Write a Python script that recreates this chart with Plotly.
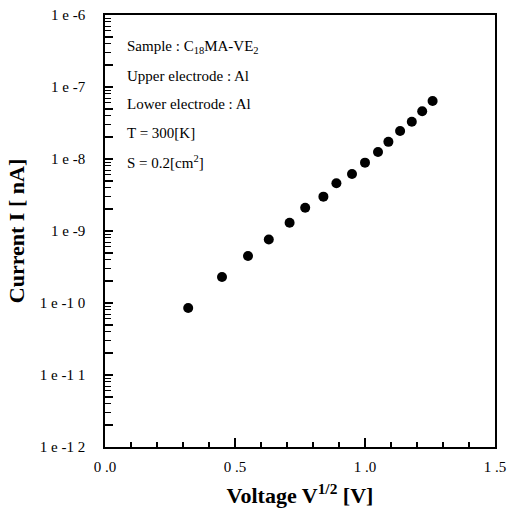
import math
import plotly.graph_objects as go

voltage_sqrt = [0.32, 0.45, 0.55, 0.63, 0.71, 0.77, 0.84, 0.89, 0.95, 1.00, 1.05, 1.09, 1.135, 1.18, 1.22, 1.26]
current = [8.5e-11, 2.3e-10, 4.5e-10, 7.6e-10, 1.3e-9, 2.1e-9, 3.0e-9, 4.6e-9, 6.2e-9, 8.9e-9,
           1.25e-8, 1.73e-8, 2.45e-8, 3.3e-8, 4.6e-8, 6.4e-8]

x_tickvals = [0.0, 0.5, 1.0, 1.5]
x_ticktext = ["0 .0", "0 .5", "1 .0", "1 .5"]
y_tickvals = [1e-12, 1e-11, 1e-10, 1e-9, 1e-8, 1e-7, 1e-6]
y_ticktext = ["1 e -1 2", "1 e -1 1", "1 e -1 0", "1 e -9", "1 e -8", "1 e -7", "1 e -6"]
y_minor_mantissas = [2, 3, 4, 5, 6, 7, 8, 9]

info_lines = [
    "Sample : C<sub>18</sub>MA-VE<sub>2</sub>",
    "Upper electrode : Al",
    "Lower electrode : Al",
    "T = 300[K]",
    "S = 0.2[cm<sup>2</sup>]",
]

FONT = "Liberation Serif"
PAD = "\u00a0" * 4

fig = go.Figure()
fig.add_trace(go.Scatter(
    x=voltage_sqrt, y=current, mode="markers",
    marker=dict(color="black", size=10),
    showlegend=False, yaxis="y",
))
fig.add_trace(go.Scatter(
    x=voltage_sqrt, y=current, mode="markers",
    marker=dict(color="black", size=10, opacity=0),
    showlegend=False, hoverinfo="skip", yaxis="y2",
))

for i, line in enumerate(info_lines):
    fig.add_annotation(
        x=0.05, xref="paper", xanchor="left",
        y=0.926 - i * 0.0664, yref="paper", yanchor="middle",
        text=line, showarrow=False,
        font=dict(family=FONT, size=15, color="black"),
    )

# inward tick marks on the log y axis (major at decades, minor at 2..9)
for v in y_tickvals:
    fig.add_shape(type="line", xref="x", yref="y", xsizemode="pixel", xanchor=0,
                  x0=0, x1=8, y0=math.log10(v), y1=math.log10(v),
                  line=dict(color="black", width=1.5))
for v in y_tickvals[:-1]:
    for m in y_minor_mantissas:
        fig.add_shape(type="line", xref="x", yref="y", xsizemode="pixel", xanchor=0,
                      x0=0, x1=6, y0=math.log10(m * v), y1=math.log10(m * v),
                      line=dict(color="black", width=1))

fig.update_layout(
    xaxis=dict(
        range=[0, 1.5], automargin=False,
        tickvals=x_tickvals, ticktext=x_ticktext,
        ticks="inside", ticklen=9, tickwidth=1.5, tickcolor="black",
        minor=dict(dtick=0.1, tick0=0, ticks="inside", ticklen=5, tickwidth=1.5, tickcolor="black", showgrid=False),
        showline=True, linecolor="black", linewidth=1.5, mirror=True,
        showgrid=False, zeroline=False,
        ticklabelstandoff=5,
        tickfont=dict(family=FONT, size=15, color="black"),
        title=dict(text="<b>Voltage V<sup>1/2</sup> [V]</b>", font=dict(family=FONT, size=22, color="black"), standoff=14),
    ),
    yaxis=dict(
        type="log", range=[-12, -6],
        showticklabels=False,
        ticks="inside", ticklen=8, tickwidth=1.5, tickcolor="black",
        minor=dict(ticks="inside", ticklen=6, tickwidth=1, tickcolor="black", showgrid=False),
        showgrid=False, zeroline=False,
    ),
    yaxis2=dict(
        type="log", range=[-12, -6], automargin=False,
        overlaying="y", side="left",
        tickvals=y_tickvals, ticktext=[t + PAD for t in y_ticktext],
        ticks="", showline=True, linecolor="black", linewidth=1.5, mirror=True,
        showgrid=False, zeroline=False,
        tickfont=dict(family=FONT, size=15, color="black"),
        title=dict(text="<b>Current I [ nA]</b>", font=dict(family=FONT, size=22, color="black"), standoff=9),
    ),
    width=507, height=513,
    margin=dict(l=105, r=12, t=15, b=66),
    paper_bgcolor="white", plot_bgcolor="white",
)

fig.write_html(
    "out.html",
    config={"displayModeBar": False},
    post_script="document.body.style.margin='0';document.body.style.overflow='hidden';",
)
